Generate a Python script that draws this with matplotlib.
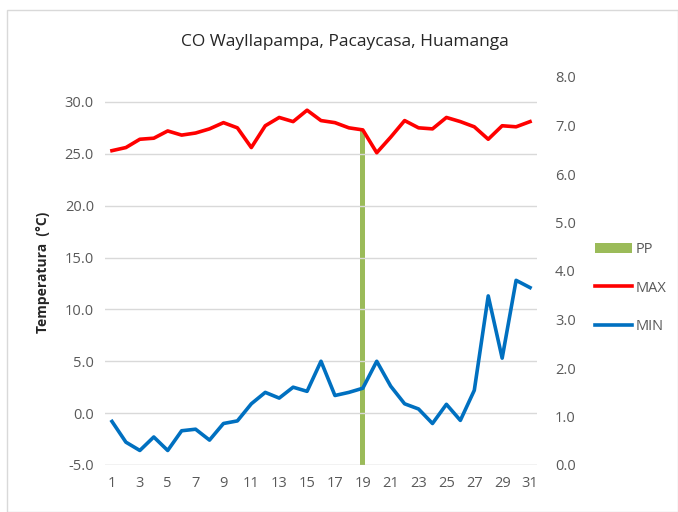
import numpy as np
import matplotlib
matplotlib.use("Agg")
import matplotlib.pyplot as plt
from matplotlib.patches import Rectangle

plt.rcParams["font.family"] = ["Open Sans", "DejaVu Sans"]

days = list(range(1, 32))
tmax = [25.3, 25.6, 26.4, 26.5, 27.2, 26.8, 27.0, 27.4, 28.0, 27.5,
        25.6, 27.7, 28.5, 28.1, 29.2, 28.2, 28.0, 27.5, 27.3, 25.1,
        26.6, 28.2, 27.5, 27.4, 28.5, 28.1, 27.6, 26.4, 27.7, 27.6, 28.1]
tmin = [-0.8, -2.8, -3.6, -2.3, -3.6, -1.7, -1.55, -2.6, -1.0, -0.75,
        0.9, 2.0, 1.45, 2.5, 2.1, 5.0, 1.7, 2.0, 2.4, 5.0,
        2.6, 0.9, 0.4, -1.0, 0.85, -0.7, 2.2, 11.3, 5.3, 12.8, 12.1]
pp = [0] * 18 + [6.9] + [0] * 12
xticks = list(range(1, 32, 2))
yticks_left = [-5, 0, 5, 10, 15, 20, 25, 30]
yticks_right = [0, 1, 2, 3, 4, 5, 6, 7, 8]

GREEN, RED, BLUE, TXT = "#9BBB59", "#FF0000", "#0070C0", "#595959"

fig = plt.figure(figsize=(6.78, 5.12), dpi=100)
fig.patches.append(Rectangle((7 / 678, 0), 1 - 7 / 678, 1 - 10 / 512, transform=fig.transFigure,
                             fill=False, edgecolor="#D9D9D9", lw=1))
ax = fig.add_axes([105 / 678, 1 - 465 / 512, (537 - 105) / 678, (465 - 77) / 512])
ax2 = ax.twinx()

ax.set_zorder(ax2.get_zorder() + 1)
ax.patch.set_visible(False)

ax2.bar(days, pp, width=0.38, color=GREEN, label="PP", zorder=2)
ax2.set_ylim(0, 8)
ax2.set_yticks(yticks_right)
ax2.set_yticklabels([f"{v:.1f}" for v in yticks_right])

ax.plot(days, tmax, color=RED, lw=2.6, label="MAX", solid_joinstyle="round")
ax.plot(days, tmin, color=BLUE, lw=2.6, label="MIN", solid_joinstyle="round")
ax.set_xlim(0.5, 31.5)
ax.set_ylim(-5, 32.4)
ax.set_yticks(yticks_left)
ax.set_yticklabels([f"{v:.1f}" for v in yticks_left])
ax.set_xticks(xticks)
for y in yticks_left[1:]:
    ax.axhline(y, color="#D9D9D9", lw=1, zorder=0)
ax.axhline(-5, color="#BFBFBF", lw=1, zorder=0)

for a in (ax, ax2):
    for s in a.spines.values():
        s.set_visible(False)
    a.tick_params(length=0, labelsize=10.5, colors=TXT, pad=8)
ax2.tick_params(pad=13)

fig.text(43 / 678, 1 - 272 / 512, "Temperatura  (°C)", rotation=90, ha="center", va="center",
         fontsize=10, fontweight="bold", color="#262626")
fig.text(345 / 678, 1 - 42 / 512, "CO Wayllapampa, Pacaycasa, Huamanga",
         ha="center", va="center", fontsize=12.5, color="#262626")

h2, l2 = ax2.get_legend_handles_labels()
h1, l1 = ax.get_legend_handles_labels()
fig.legend(h2 + h1, l2 + l1, loc="center left", bbox_to_anchor=(582 / 678, 1 - 288 / 512),
           frameon=False, labelspacing=1.6, handlelength=2.5, handletextpad=0.3,
           fontsize=10.5, labelcolor=TXT)

fig.savefig("out.png", dpi=100)
